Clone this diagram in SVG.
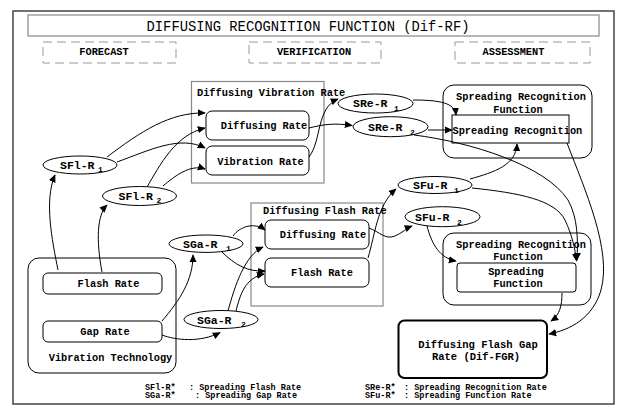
<svg xmlns="http://www.w3.org/2000/svg" width="621" height="408" viewBox="0 0 621 408">
<defs>
<marker id="ah" viewBox="0 0 10 10" refX="9" refY="5" markerWidth="8" markerHeight="8" markerUnits="userSpaceOnUse" orient="auto">
<path d="M0,0.5 L10,5 L0,9.5 z" fill="#000"/>
</marker>
<style>
.t{font-family:"Liberation Mono","DejaVu Sans Mono",monospace;font-weight:bold;font-size:10.3px;fill:#000}
.e{font-family:"Liberation Mono","DejaVu Sans Mono",monospace;font-weight:bold;font-size:11.5px;fill:#000}
.s{font-size:8px}
.lg{font-family:"Liberation Mono","DejaVu Sans Mono",monospace;font-weight:bold;font-size:8.5px;fill:#000}
.m{text-anchor:middle}
.box{fill:#fff;stroke:#000;stroke-width:1}
.grp{fill:none;stroke:#888;stroke-width:1.2}
.ell{fill:#fff;stroke:#000;stroke-width:1}
.dash{fill:none;stroke:#999;stroke-width:1;stroke-dasharray:9 5}
.c{fill:none;stroke:#000;stroke-width:1;marker-end:url(#ah)}
.l{fill:none;stroke:#000;stroke-width:1}
</style>
</defs>
<rect width="621" height="408" fill="#fff"/>
<rect x="13" y="11" width="601" height="393" fill="none" stroke="#444" stroke-width="1.5"/>
<g id="title">
<rect x="28" y="15" width="571" height="21" fill="none" stroke="#888" stroke-width="1.2"/>
<text x="308" y="30.5" class="m" style="font-family:'Liberation Mono','DejaVu Sans Mono',monospace;font-size:13.8px">DIFFUSING RECOGNITION FUNCTION (Dif-RF)</text>
</g>
<g id="phase-forecast"><rect x="43" y="42" width="133" height="21" class="dash"/><text x="104" y="55" class="t m">FORECAST</text></g>
<g id="phase-verification"><rect x="249" y="42" width="132" height="21" class="dash"/><text x="314" y="55" class="t m">VERIFICATION</text></g>
<g id="phase-assessment"><rect x="455" y="42" width="135" height="21" class="dash"/><text x="513.5" y="55" class="t m">ASSESSMENT</text></g>

<g id="vibration-technology">
<rect x="28" y="258" width="148" height="115" rx="11" class="box"/>
<rect x="43" y="273" width="119" height="21" rx="5" class="box"/>
<text x="108.5" y="287" class="t m">Flash Rate</text>
<rect x="43" y="321" width="119" height="21" rx="5" class="box"/>
<text x="105" y="334.5" class="t m">Gap Rate</text>
<text x="110.5" y="361" class="t m">Vibration Technology</text>
</g>

<g id="diffusing-vibration-rate">
<rect x="191.5" y="81.5" width="132.5" height="101.5" class="grp"/>
<text x="197" y="96" class="t">Diffusing Vibration Rate</text>
<rect x="206" y="111" width="103" height="29" rx="6" class="box"/>
<text x="264" y="128.5" class="t m">Diffusing Rate</text>
<rect x="206" y="146" width="103" height="29" rx="6" class="box"/>
<text x="260.5" y="164.5" class="t m">Vibration Rate</text>
</g>

<g id="diffusing-flash-rate">
<rect x="251" y="203" width="132" height="103" class="grp"/>
<text x="263" y="214" class="t">Diffusing Flash Rate</text>
<rect x="265" y="220" width="104" height="29" rx="6" class="box"/>
<text x="323" y="237.5" class="t m">Diffusing Rate</text>
<rect x="265" y="258" width="104" height="29" rx="6" class="box"/>
<text x="322" y="276" class="t m">Flash Rate</text>
</g>

<g id="srf-recognition">
<rect x="443" y="85" width="149" height="73" rx="11" class="box"/>
<text x="521" y="99.5" class="t m">Spreading Recognition</text>
<text x="518" y="112.5" class="t m">Function</text>
<rect x="452" y="115" width="117" height="28" class="box"/>
<text x="452.5" y="133.5" class="t">Spreading Recognition</text>
</g>

<g id="srf-function">
<rect x="443" y="233" width="148" height="72" rx="11" class="box"/>
<text x="521" y="247.5" class="t m">Spreading Recognition</text>
<text x="518" y="259.5" class="t m">Function</text>
<rect x="457" y="263" width="119" height="29" rx="3" class="box"/>
<text x="516" y="275" class="t m">Spreading</text>
<text x="518" y="287" class="t m">Function</text>
</g>

<g id="dif-fgr">
<rect x="398.5" y="320.5" width="148.5" height="57.5" rx="6" fill="#fff" stroke="#000" stroke-width="2"/>
<text x="478" y="347.5" class="t m" style="font-size:10.5px">Diffusing Flash Gap</text>
<text x="476" y="359.5" class="t m" style="font-size:10.5px">Rate (Dif-FGR)</text>
</g>

<g id="sfl-r1"><ellipse cx="80" cy="165" rx="37" ry="9" class="ell"/><text x="60" y="168.5" class="e">SFl-R<tspan x="98" y="172" class="s">1</tspan></text></g>
<g id="sfl-r2"><ellipse cx="139.5" cy="196" rx="37" ry="9.5" class="ell"/><text x="118.5" y="199.5" class="e">SFl-R<tspan x="156.5" y="203" class="s">2</tspan></text></g>
<g id="sre-r1"><ellipse cx="375.5" cy="103.5" rx="37.5" ry="9.5" class="ell"/><text x="353" y="107" class="e">SRe-R<tspan x="394" y="110.5" class="s">1</tspan></text></g>
<g id="sre-r2"><ellipse cx="390.5" cy="126.7" rx="37.5" ry="10" class="ell"/><text x="368" y="131" class="e">SRe-R<tspan x="410" y="134.5" class="s">2</tspan></text></g>
<g id="sfu-r1"><ellipse cx="435" cy="185" rx="37" ry="8.5" class="ell"/><text x="413" y="189" class="e">SFu-R<tspan x="454" y="192.5" class="s">1</tspan></text></g>
<g id="sfu-r2"><ellipse cx="442.5" cy="216.7" rx="37.5" ry="10" class="ell"/><text x="415" y="221" class="e">SFu-R<tspan x="457" y="224.5" class="s">2</tspan></text></g>
<g id="sga-r1"><ellipse cx="206" cy="243.7" rx="37" ry="8.7" class="ell"/><text x="183" y="247.5" class="e">SGa-R<tspan x="226" y="251" class="s">1</tspan></text></g>
<g id="sga-r2"><ellipse cx="221" cy="319.5" rx="37" ry="9" class="ell"/><text x="197" y="323.5" class="e">SGa-R<tspan x="241" y="327" class="s">2</tspan></text></g>

<g id="connectors">
<path class="c" d="M58,270 C52,240 44,200 55,175"/>
<path class="c" d="M102,272 C96,240 97,215 107,205"/>
<path class="c" d="M107,157 C140,132 170,112 205,113"/>
<path class="c" d="M117,162 C150,150 180,135 205,148"/>
<path class="c" d="M147,187 C160,165 175,135 205,128"/>
<path class="c" d="M163,186 C175,176 190,164 205,169"/>
<path class="c" d="M309,128 C325,124 335,123 352,125.5"/>
<path class="c" d="M309,157 C322,140 316,108 338,99"/>
<path class="c" d="M413,100 C440,100 455,103 456,115"/>
<path class="c" d="M428,130 L452,130"/>
<path class="c" d="M414,135 C470,142 545,165 568,200 C578,218 578,240 577,260"/>
<path class="c" d="M472,188 C520,193 555,200 565,220 C572,235 575,248 576.5,261"/>
<path class="c" d="M470,179 C495,172 516,165 517,144"/>
<path class="c" d="M567,143 C585,190 612,250 601,290 C593,318 570,330 549,334"/>
<path class="c" d="M562,293 C562,305 560,315 551,321"/>
<path class="c" d="M368,258 C375,235 377,205 396,189"/>
<path class="c" d="M369,228 C380,232 385,240 395,236 C402,233 407,228 412,226"/>
<path class="c" d="M427,226 C432,245 440,258 456,261"/>
<path class="c" d="M233,236 C240,226 255,222 265,230"/>
<path class="c" d="M222,252 C235,265 248,272 265,271"/>
<path class="c" d="M162,321 C180,300 193,280 193,255"/>
<path class="c" d="M162,335 C175,340 200,343 220,332.5"/>
<path class="c" d="M228,311 C235,285 245,255 263,247"/>
<path class="c" d="M236,311 C240,295 245,278 264,274"/>
</g>

<g id="legend">
<text x="145" y="389.5" class="lg">SFl-R*</text><text x="189" y="389.5" class="lg">: Spreading Flash Rate</text>
<text x="145" y="398" class="lg">SGa-R*</text><text x="195" y="398" class="lg">: Spreading Gap Rate</text>
<text x="365" y="389.5" class="lg">SRe-R*</text><text x="404" y="389.5" class="lg">: Spreading Recognition Rate</text>
<text x="365" y="398" class="lg">SFu-R*</text><text x="404" y="398" class="lg">: Spreading Function Rate</text>
</g>
</svg>
